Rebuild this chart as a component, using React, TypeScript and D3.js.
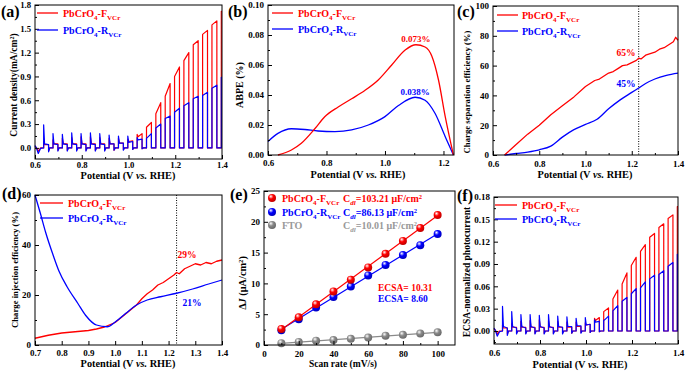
import React, { useEffect, useRef } from 'react';
import * as d3 from 'd3';

const FONT = '"Liberation Serif", "Times New Roman", Times, serif';
const RED = '#ff0000';
const BLUE = '#0000ff';
const GRAY = '#8a8a8a';

// ---- (a) chopped-light LSV, current density (mA/cm2) ----
const chopOn = [0.637, 0.677, 0.717, 0.757, 0.797, 0.837, 0.877, 0.917, 0.957, 0.997, 1.037, 1.077, 1.117, 1.157, 1.197, 1.237, 1.277, 1.317, 1.357, 1.397];
const chopOff = [0.658, 0.698, 0.738, 0.778, 0.818, 0.858, 0.898, 0.938, 0.978, 1.018, 1.058, 1.098, 1.138, 1.178, 1.218, 1.258, 1.298, 1.338, 1.378, 1.4];
const leadX = [0.6, 0.606, 0.614, 0.624];

const aLeadF = [0.02, 0.0, -0.04, 0.0];
const aSpikeF = [0.08, 0.1, 0.12, 0.13, 0.14, 0.14, 0.13, 0.12, 0.12, 0.11, 0.17, 0.26, 0.43, 0.65, 0.9, 1.1, 1.3, 1.43, 1.55, 1.72];
const aStartF = [0.04, 0.05, 0.05, 0.05, 0.05, 0.05, 0.05, 0.05, 0.06, 0.08, 0.14, 0.26, 0.43, 0.65, 0.9, 1.1, 1.3, 1.43, 1.55, 1.72];
const aEndF = [0.04, 0.05, 0.05, 0.05, 0.05, 0.05, 0.05, 0.05, 0.06, 0.09, 0.18, 0.32, 0.57, 0.81, 1.02, 1.2, 1.35, 1.48, 1.6, 1.72];
const aDipF = [-0.04, -0.03, -0.03, -0.03, -0.03, -0.03, -0.03, -0.03, -0.02, -0.02, -0.01, 0, 0, 0, 0, 0, 0, 0, 0, 0];

const aLeadR = [0.03, 0.0, -0.07, -0.005];
const aSpikeR = [0.29, 0.18, 0.17, 0.19, 0.18, 0.19, 0.18, 0.16, 0.15, 0.15, 0.13, 0.12, 0.25, 0.37, 0.45, 0.53, 0.62, 0.66, 0.75, 0.89];
const aStartR = [0.05, 0.05, 0.05, 0.05, 0.05, 0.05, 0.05, 0.05, 0.06, 0.07, 0.1, 0.12, 0.25, 0.37, 0.45, 0.53, 0.62, 0.66, 0.75, 0.89];
const aEndR = [0.04, 0.04, 0.04, 0.04, 0.04, 0.04, 0.04, 0.05, 0.06, 0.08, 0.11, 0.18, 0.3, 0.4, 0.5, 0.57, 0.65, 0.7, 0.79, 0.89];
const aDipR = [-0.05, -0.04, -0.04, -0.04, -0.04, -0.04, -0.04, -0.03, -0.03, -0.02, -0.01, 0, 0, 0, 0, 0, 0, 0, 0, 0];

// ---- (f) ECSA-normalized photocurrent ----
const fLeadF = [0.003, 0.001, -0.004, 0.0];
const fSpikeF = [0.008, 0.01, 0.013, 0.014, 0.015, 0.014, 0.013, 0.012, 0.012, 0.011, 0.017, 0.026, 0.043, 0.063, 0.088, 0.107, 0.126, 0.139, 0.151, 0.167];
const fStartF = [0.004, 0.005, 0.005, 0.005, 0.005, 0.005, 0.005, 0.005, 0.006, 0.008, 0.014, 0.026, 0.043, 0.063, 0.088, 0.107, 0.126, 0.139, 0.151, 0.167];
const fEndF = [0.004, 0.005, 0.005, 0.005, 0.005, 0.005, 0.005, 0.005, 0.006, 0.009, 0.018, 0.031, 0.055, 0.078, 0.099, 0.116, 0.131, 0.144, 0.156, 0.167];
const fDipF = [-0.004, -0.003, -0.003, -0.003, -0.003, -0.003, -0.003, -0.003, -0.002, -0.002, -0.001, 0, 0, 0, 0, 0, 0, 0, 0, 0];

const fLeadR = [0.004, 0.001, -0.007, -0.001];
const fSpikeR = [0.033, 0.026, 0.022, 0.022, 0.021, 0.022, 0.02, 0.019, 0.017, 0.018, 0.015, 0.014, 0.027, 0.04, 0.05, 0.058, 0.07, 0.076, 0.087, 0.103];
const fStartR = [0.006, 0.006, 0.006, 0.006, 0.006, 0.006, 0.006, 0.006, 0.007, 0.008, 0.012, 0.015, 0.027, 0.04, 0.05, 0.058, 0.07, 0.076, 0.087, 0.103];
const fEndR = [0.004, 0.004, 0.004, 0.004, 0.004, 0.004, 0.005, 0.006, 0.007, 0.009, 0.013, 0.02, 0.034, 0.045, 0.057, 0.066, 0.075, 0.081, 0.092, 0.103];
const fDipR = [-0.006, -0.004, -0.004, -0.004, -0.004, -0.004, -0.004, -0.003, -0.003, -0.002, -0.001, 0, 0, 0, 0, 0, 0, 0, 0, 0];

// ---- (b) ABPE (%) ----
const bFx = [0.634, 0.68, 0.714, 0.76, 0.794, 0.84, 0.886, 0.931, 0.977, 1.023, 1.069, 1.106, 1.137, 1.16, 1.183, 1.206, 1.234];
const bFy = [0, 0.0033, 0.0078, 0.0175, 0.0255, 0.032, 0.0375, 0.043, 0.05, 0.06, 0.07, 0.0735, 0.072, 0.066, 0.05, 0.0256, 0];
const bRx = [0.6, 0.634, 0.68, 0.726, 0.771, 0.829, 0.886, 0.943, 1.0, 1.046, 1.103, 1.137, 1.171, 1.206, 1.234];
const bRy = [0.009, 0.0144, 0.0175, 0.017, 0.016, 0.0156, 0.0167, 0.02, 0.0256, 0.033, 0.0385, 0.0365, 0.0278, 0.0122, 0];

// ---- (c) charge separation efficiency (%) ----
const cFx = [0.65, 0.7, 0.75, 0.8, 0.85, 0.9, 0.95, 1.0, 1.04, 1.06, 1.08, 1.1, 1.12, 1.14, 1.16, 1.18, 1.2, 1.22, 1.23, 1.24, 1.26, 1.28, 1.3, 1.32, 1.34, 1.36, 1.38, 1.39, 1.4];
const cFy = [0, 7, 14, 20, 27, 33, 39, 46, 50, 51, 53, 55, 56, 58, 60, 60.5, 62, 63.5, 65, 64.5, 67, 68, 69, 71, 72, 74, 76, 79, 77];
const cRx = [0.65, 0.7, 0.75, 0.8, 0.85, 0.9, 0.95, 1.0, 1.05, 1.1, 1.15, 1.2, 1.23, 1.26, 1.3, 1.35, 1.4];
const cRy = [0, 1, 2, 3.5, 6, 12, 17, 20.5, 24, 31, 37, 42, 45, 48, 51, 53.5, 55];

// ---- (d) charge injection efficiency (%) ----
const dFx = [0.7, 0.75, 0.8, 0.85, 0.9, 0.93, 0.96, 1.0, 1.04, 1.08, 1.1, 1.12, 1.14, 1.16, 1.18, 1.2, 1.22, 1.23, 1.24, 1.26, 1.28, 1.3, 1.32, 1.34, 1.36, 1.38, 1.4];
const dFy = [2.7, 3.9, 4.8, 5.3, 5.8, 6.4, 7.2, 9, 12.5, 16, 18.5, 20.5, 22, 24, 25, 26.5, 28, 29, 28.5, 30.5, 31.5, 32.5, 32, 33, 32.5, 33.5, 34];
const dRx = [0.7, 0.72, 0.74, 0.77, 0.79, 0.82, 0.86, 0.89, 0.93, 0.97, 1.0, 1.04, 1.08, 1.12, 1.17, 1.23, 1.29, 1.35, 1.4];
const dRy = [60, 52.7, 45, 35.3, 29.5, 23.3, 16.7, 11.8, 8, 7.3, 9.2, 12.7, 16, 18, 19.3, 20.7, 22.4, 24.4, 26];

// ---- (e) double-layer capacitance ----
const scanRates = [10, 20, 30, 40, 50, 60, 70, 80, 90, 100];
const eF = [2.6, 4.5, 6.6, 8.7, 10.6, 12.6, 14.8, 16.9, 19.0, 21.1];
const eR = [2.4, 4.2, 6.1, 7.8, 9.5, 11.3, 13.0, 14.6, 16.2, 18.0];
const eFTO = [0.3, 0.5, 0.7, 0.8, 1.0, 1.2, 1.5, 1.65, 1.85, 2.05];

type Sel = d3.Selection<SVGGElement, unknown, null, undefined>;

function frame(root: Sel, o: any) {
  const { x, y, xTicks, xMinor, yTicks, yMinor, xFmt, yFmt } = o;
  const [l, r] = x.range();
  const [b, t] = y.range();
  const g = root.append('g');
  const style = (s: any) => {
    s.select('.domain').remove();
    s.selectAll('line').attr('stroke', '#000');
    s.selectAll('text').attr('fill', '#000');
    s.attr('font-family', FONT).attr('font-size', o.tickSize || 9).attr('font-weight', 'bold');
  };
  g.append('g').attr('transform', `translate(0,${b})`)
    .call(d3.axisBottom(x).tickValues(xTicks).tickSize(-4).tickPadding(o.xPad ?? 5).tickFormat(xFmt)).call(style);
  if (xMinor.length)
    g.append('g').attr('transform', `translate(0,${b})`)
      .call(d3.axisBottom(x).tickValues(xMinor).tickSize(-2).tickFormat(() => '')).call(style);
  g.append('g').attr('transform', `translate(${l},0)`)
    .call(d3.axisLeft(y).tickValues(yTicks).tickSize(-4).tickPadding(o.yPad ?? 4).tickFormat(yFmt)).call(style);
  if (yMinor.length)
    g.append('g').attr('transform', `translate(${l},0)`)
      .call(d3.axisLeft(y).tickValues(yMinor).tickSize(-2).tickFormat(() => '')).call(style);
  g.append('rect').attr('x', l).attr('y', t).attr('width', r - l).attr('height', b - t)
    .attr('fill', 'none').attr('stroke', '#000').attr('stroke-width', 1);
}

function txt(root: Sel, x: number, y: number, size: number, color: string, anchor = 'start') {
  return root.append('text').attr('x', x).attr('y', y).attr('font-family', FONT)
    .attr('font-size', size).attr('font-weight', 'bold').attr('fill', color).attr('text-anchor', anchor);
}

function xLabel(root: Sel, cx: number, y: number, size = 10.3, main = 'Potential (V ', ital = 'vs.', tail = ' RHE)') {
  const t = txt(root, cx, y, size, '#000', 'middle');
  t.append('tspan').text(main);
  if (ital) t.append('tspan').attr('font-style', 'italic').text(ital);
  if (tail) t.append('tspan').text(tail);
}

function yLabel(root: Sel, bx: number, cy: number, size: number, parts: [string, string?][]) {
  const t = root.append('text').attr('transform', `translate(${bx},${cy}) rotate(-90)`)
    .attr('font-family', FONT).attr('font-size', size).attr('font-weight', 'bold')
    .attr('text-anchor', 'middle').attr('fill', '#000');
  parts.forEach(([s, kind]) => {
    const sp = t.append('tspan').text(s);
    if (kind === 'sup') sp.attr('font-size', size * 0.65).attr('baseline-shift', 'super');
    if (kind === 'it') sp.attr('font-style', 'italic');
  });
}

function sampleName(root: Sel, x: number, y: number, size: number, color: string, letter: string) {
  const t = txt(root, x, y, size, color);
  t.append('tspan').text('PbCrO');
  t.append('tspan').attr('font-size', size * 0.7).attr('dy', size * 0.3).text('4');
  t.append('tspan').attr('dy', -size * 0.3).text('-' + letter);
  t.append('tspan').attr('font-size', size * 0.7).attr('dy', size * 0.3).text('VCr');
  return t;
}

function legend(root: Sel, x1: number, x2: number, tx: number, y1: number, y2: number) {
  [[y1, RED, 'F'], [y2, BLUE, 'R']].forEach(([yy, c, l]: any) => {
    root.append('line').attr('x1', x1).attr('x2', x2).attr('y1', yy).attr('y2', yy)
      .attr('stroke', c).attr('stroke-width', 1.3);
    sampleName(root, tx, yy + 3.5, 10, c, l);
  });
}

function chopPoints(lead: number[], spike: number[], st: number[], en: number[], dip: number[]) {
  const pts: [number, number][] = leadX.map((v, i) => [v, lead[i]]);
  chopOn.forEach((s, i) => {
    pts.push([s, 0]);
    pts.push([s, spike[i]]);
    if (spike[i] !== st[i]) pts.push([s + 0.004, st[i]]);
    pts.push([chopOff[i], en[i]]);
    if (i < chopOn.length - 1) {
      pts.push([chopOff[i], dip[i]]);
      pts.push([chopOff[i] + 0.005, 0]);
    }
  });
  return pts;
}

function curve(root: Sel, x: any, y: any, pts: [number, number][], color: string, smooth = false, w = 1.3) {
  const line = d3.line<[number, number]>().x(d => x(d[0])).y(d => y(d[1]));
  if (smooth) line.curve(d3.curveMonotoneX);
  root.append('path').attr('d', line(pts)).attr('fill', 'none').attr('stroke', color)
    .attr('stroke-width', w).attr('stroke-linejoin', 'round');
}

const zip = (a: number[], b: number[]) => a.map((v, i) => [v, b[i]] as [number, number]);

function panelTag(root: Sel, x: number, y: number, s: string) {
  txt(root, x, y, 16, '#000').text(s);
}

const f1 = d3.format('.1f');
const f2 = d3.format('.2f');
const fd = d3.format('d');

export default function App() {
  const ref = useRef<SVGSVGElement>(null);

  useEffect(() => {
    if (!ref.current) return;
    const svg = d3.select(ref.current);
    svg.selectAll('*').remove();
    const root = svg.append('g') as unknown as Sel;

    // defs for shaded markers
    const defs = svg.append('defs');
    [['gR', RED], ['gB', BLUE], ['gG', GRAY]].forEach(([id, c]) => {
      const rg = defs.append('radialGradient').attr('id', id).attr('cx', '40%').attr('cy', '35%').attr('r', '65%').attr('fx', '35%').attr('fy', '30%');
      rg.append('stop').attr('offset', '0%').attr('stop-color', '#fff');
      rg.append('stop').attr('offset', '45%').attr('stop-color', c);
      rg.append('stop').attr('offset', '100%').attr('stop-color', d3.color(c)!.darker(0.8).toString());
    });

    // ---------- (a) ----------
    {
      const x = d3.scaleLinear().domain([0.6, 1.4]).range([35, 222]);
      const y = d3.scaleLinear().domain([-0.14, 1.8]).range([159, 5]);
      curve(root, x, y, chopPoints(aLeadF, aSpikeF, aStartF, aEndF, aDipF), RED, false, 1.2);
      curve(root, x, y, chopPoints(aLeadR, aSpikeR, aStartR, aEndR, aDipR), BLUE, false, 1.2);
      frame(root, { x, y, xTicks: [0.6, 0.8, 1.0, 1.2, 1.4], xMinor: [0.7, 0.9, 1.1, 1.3],
        yTicks: [0, 0.3, 0.6, 0.9, 1.2, 1.5, 1.8], yMinor: [0.15, 0.45, 0.75, 1.05, 1.35, 1.65], xFmt: f1, yFmt: f1, xPad: 2.5, tickSize: 8.7 });
      legend(root, 37, 58, 63, 13, 30);
      xLabel(root, 128, 179);
      yLabel(root, 16.5, 85, 9.5, [['Current density(mA/cm'], ['2', 'sup'], [')']]);
      panelTag(root, 1, 17, '(a)');
    }

    // ---------- (b) ----------
    {
      const x = d3.scaleLinear().domain([0.6, 1.236]).range([268, 454]);
      const y = d3.scaleLinear().domain([0, 0.1]).range([155, 5]);
      curve(root, x, y, zip(bRx, bRy), BLUE, true);
      curve(root, x, y, zip(bFx, bFy), RED, true);
      frame(root, { x, y, xTicks: [0.6, 0.8, 1.0, 1.2], xMinor: [0.7, 0.9, 1.1],
        yTicks: [0, 0.02, 0.04, 0.06, 0.08, 0.1], yMinor: [0.01, 0.03, 0.05, 0.07, 0.09], xFmt: f1, yFmt: f2, xPad: 5 });
      legend(root, 272, 293, 298, 13, 29);
      txt(root, x(1.106), 42, 9, RED, 'middle').text('0.073%');
      txt(root, x(1.103), 95, 9, BLUE, 'middle').text('0.038%');
      xLabel(root, 358, 178);
      yLabel(root, 243, 85, 10, [['ABPE (%)']]);
      panelTag(root, 228, 17, '(b)');
    }

    // ---------- (c) ----------
    {
      const x = d3.scaleLinear().domain([0.6, 1.4]).range([493, 678]);
      const y = d3.scaleLinear().domain([0, 100]).range([155, 6]);
      root.append('line').attr('x1', x(1.23)).attr('x2', x(1.23)).attr('y1', 6).attr('y2', 155)
        .attr('stroke', '#000').attr('stroke-width', 1).attr('stroke-dasharray', '1,1.5');
      curve(root, x, y, zip(cRx, cRy), BLUE, true);
      curve(root, x, y, zip(cFx, cFy), RED, false);
      frame(root, { x, y, xTicks: [0.6, 0.8, 1.0, 1.2, 1.4], xMinor: [0.7, 0.9, 1.1, 1.3],
        yTicks: [0, 20, 40, 60, 80, 100], yMinor: [10, 30, 50, 70, 90], xFmt: f1, yFmt: fd, xPad: 6 });
      legend(root, 497, 518, 522, 15, 31);
      txt(root, 626, 56, 9.5, RED, 'middle').text('65%');
      txt(root, 626, 87, 9.5, BLUE, 'middle').text('45%');
      xLabel(root, 585, 178);
      yLabel(root, 469.5, 92, 8.7, [['Charge separation efficiency (%)']]);
      panelTag(root, 457, 17, '(c)');
    }

    // ---------- (d) ----------
    {
      const x = d3.scaleLinear().domain([0.7, 1.4]).range([35, 222]);
      const y = d3.scaleLinear().domain([0, 60]).range([345, 195]);
      root.append('line').attr('x1', x(1.23)).attr('x2', x(1.23)).attr('y1', 195).attr('y2', 345)
        .attr('stroke', '#000').attr('stroke-width', 1).attr('stroke-dasharray', '1,1.5');
      curve(root, x, y, zip(dFx, dFy), RED, false);
      curve(root, x, y, zip(dRx, dRy), BLUE, true);
      frame(root, { x, y, xTicks: [0.7, 0.8, 0.9, 1.0, 1.1, 1.2, 1.3, 1.4], xMinor: [],
        yTicks: [0, 20, 40, 60], yMinor: [10, 30, 50], xFmt: f1, yFmt: fd, xPad: 5 });
      legend(root, 40, 63, 68, 203, 218);
      txt(root, 187, 258, 9.5, RED, 'middle').text('29%');
      txt(root, 192, 306, 9.5, BLUE, 'middle').text('21%');
      xLabel(root, 128, 366.5);
      yLabel(root, 17.5, 270, 8.7, [['Charge injection efficiency (%)']]);
      panelTag(root, 2, 199, '(d)');
    }

    // ---------- (e) ----------
    {
      const x = d3.scaleLinear().domain([0, 110]).range([264, 455]);
      const y = d3.scaleLinear().domain([0, 25]).range([345, 191]);
      const series: [number[], string, string][] = [[eFTO, GRAY, 'gG'], [eR, BLUE, 'gB'], [eF, RED, 'gR']];
      series.forEach(([vals, c, gid]) => {
        const mx = d3.mean(scanRates)!;
        const my = d3.mean(vals)!;
        const slope = d3.sum(scanRates, (v, i) => (v - mx) * (vals[i] - my)) / d3.sum(scanRates, v => (v - mx) ** 2);
        const x0 = scanRates[0];
        const x1 = scanRates[scanRates.length - 1];
        root.append('line').attr('x1', x(x0)).attr('x2', x(x1))
          .attr('y1', y(my + slope * (x0 - mx))).attr('y2', y(my + slope * (x1 - mx)))
          .attr('stroke', c).attr('stroke-width', 1.2);
        scanRates.forEach((s, i) => {
          root.append('circle').attr('cx', x(s)).attr('cy', y(vals[i])).attr('r', 4)
            .attr('fill', `url(#${gid})`);
        });
      });
      frame(root, { x, y, xTicks: [0, 20, 40, 60, 80, 100], xMinor: [10, 30, 50, 70, 90],
        yTicks: [0, 5, 10, 15, 20, 25], yMinor: [2.5, 7.5, 12.5, 17.5, 22.5], xFmt: fd, yFmt: fd, xPad: 6 });
      const leg: [number, string, string, string, string][] = [
        [198, RED, 'gR', 'F', '103.21'], [212, BLUE, 'gB', 'R', '86.13'], [225, GRAY, 'gG', '', '10.01']];
      leg.forEach(([yy, c, gid, l, v]) => {
        root.append('circle').attr('cx', 272).attr('cy', yy).attr('r', 4).attr('fill', `url(#${gid})`);
        const tc = c === GRAY ? '#999' : c;
        if (l) sampleName(root, 282, yy + 3.5, 10, tc, l);
        else txt(root, 282, yy + 3.5, 10, tc).text('FTO');
        const t = txt(root, 343, yy + 3.5, 10, tc);
        t.append('tspan').text('C');
        t.append('tspan').attr('font-size', 7).attr('dy', 3).attr('font-style', 'italic').text('dl');
        t.append('tspan').attr('dy', -3).text(`=${v} μF/cm`);
        t.append('tspan').attr('font-size', 6.5).attr('baseline-shift', 'super').text('2');
      });
      txt(root, 378, 291, 9.5, RED).text('ECSA= 10.31');
      txt(root, 378, 302, 9.5, BLUE).text('ECSA= 8.60');
      xLabel(root, 343, 367, 9.5, 'Scan rate (mV/s)', '', '');
      yLabel(root, 246, 283, 10.3, [['Δ'], ['J', 'it'], [' (μA/cm'], ['2', 'sup'], [')']]);
      panelTag(root, 230, 200, '(e)');
    }

    // ---------- (f) ----------
    {
      const x = d3.scaleLinear().domain([0.6, 1.4]).range([494, 678]);
      const y = d3.scaleLinear().domain([-0.0175, 0.18]).range([344, 197]);
      curve(root, x, y, chopPoints(fLeadF, fSpikeF, fStartF, fEndF, fDipF), RED, false, 1.2);
      curve(root, x, y, chopPoints(fLeadR, fSpikeR, fStartR, fEndR, fDipR), BLUE, false, 1.2);
      frame(root, { x, y, xTicks: [0.6, 0.8, 1.0, 1.2, 1.4], xMinor: [0.7, 0.9, 1.1, 1.3],
        yTicks: [0, 0.03, 0.06, 0.09, 0.12, 0.15, 0.18], yMinor: [-0.015, 0.015, 0.045, 0.075, 0.105, 0.135, 0.165], xFmt: f1, yFmt: f2, xPad: 6 });
      legend(root, 495, 517, 522, 205, 219);
      xLabel(root, 580, 367.5);
      yLabel(root, 470, 272, 9.5, [['ECSA-normalized photocurrent']]);
      panelTag(root, 457, 201, '(f)');
    }
  }, []);

  return (
    <div style={{ position: 'fixed', left: 0, top: 0, width: 685, height: 372, background: '#fff' }}>
      <svg ref={ref} width={685} height={372} />
    </div>
  );
}
